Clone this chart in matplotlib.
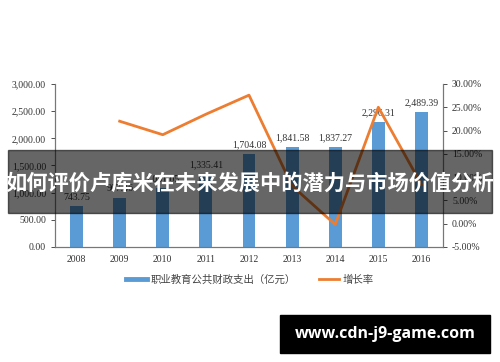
import matplotlib
matplotlib.use("Agg")
import matplotlib.pyplot as plt
from matplotlib.lines import Line2D
from matplotlib.patches import Rectangle
from matplotlib.ticker import FuncFormatter

# 数据
years = ["2008", "2009", "2010", "2011", "2012", "2013", "2014", "2015", "2016"]
spending = [743.75, 907.46, 1081.05, 1335.41, 1704.08, 1841.58, 1837.27, 2296.31, 2489.39]
growth_years = years[1:]
growth = [22.0, 19.1, 23.5, 27.6, 8.1, -0.2, 25.0, 8.4]

blue = "#5B9BD5"
orange = "#ED7D31"
serif = "Liberation Serif"
cjk = ["Noto Sans CJK SC", "DejaVu Sans"]

fig = plt.figure(figsize=(5.0, 3.62), dpi=100)
ax = fig.add_axes([0.11, 0.318, 0.776, 0.45])
ax2 = ax.twinx()

x = list(range(len(years)))
bars = ax.bar(x, spending, width=0.3, color=blue, zorder=2)
for xi, v in zip(x, spending):
    ax.text(xi, v + 90, f"{v:,.2f}", ha="center", va="bottom",
            fontsize=7, family=serif, color="#333333")

gx = [years.index(y) for y in growth_years]
ax2.plot(gx, growth, color=orange, lw=2, zorder=3)

ax.set_xlim(-0.5, len(years) - 0.5)
ax.set_ylim(0, 3000)
ax.set_yticks(range(0, 3001, 500))
ax.yaxis.set_major_formatter(FuncFormatter(lambda v, p: f"{v:,.2f}"))
ax2.set_ylim(-5, 30)
ax2.set_yticks(range(-5, 31, 5))
ax2.yaxis.set_major_formatter(FuncFormatter(lambda v, p: f"{v:.2f}%"))
ax.set_xticks(x)
ax.set_xticklabels(years)

for a in (ax, ax2):
    a.spines["top"].set_visible(False)
    for s in ("left", "right", "bottom"):
        a.spines[s].set_color("#777777")
        a.spines[s].set_linewidth(0.8)
    a.tick_params(labelsize=7, colors="#333333", length=3, width=0.6)
    for lab in a.get_yticklabels() + a.get_xticklabels():
        lab.set_family(serif)
ax.tick_params(axis="x", length=0, pad=6)

handles = [Line2D([], [], color=blue, lw=3.5),
           Line2D([], [], color=orange, lw=2)]
fig.legend(handles, ["职业教育公共财政支出（亿元）", "增长率"],
           loc="center", bbox_to_anchor=(0.5, 1 - 280 / 362), ncol=2,
           frameon=False, prop={"family": cjk, "size": 7.5},
           handlelength=2.0, handletextpad=0.3, columnspacing=2.2,
           labelcolor="#444444")

# 标题遮罩
fig.patches.append(Rectangle((8 / 500, 1 - 213 / 362), 484 / 500, 63 / 362,
                             transform=fig.transFigure, color="black",
                             alpha=0.6, zorder=10))
fig.text(0.5, 1 - 183 / 362, "如何评价卢库米在未来发展中的潜力与市场价值分析",
         ha="center", va="center", color="white", fontsize=15.3,
         fontweight="bold", family=cjk, zorder=11)

# 水印
fig.patches.append(Rectangle((280 / 500, 1 - 353 / 362), 210 / 500, 38 / 362,
                             transform=fig.transFigure, color="black", zorder=10))
fig.text(385 / 500, 1 - 334 / 362, "www.cdn-j9-game.com", ha="center",
         va="center", color="white", fontsize=11.5, fontweight="bold",
         family="Open Sans", zorder=11)

fig.savefig("out.png", dpi=100)
